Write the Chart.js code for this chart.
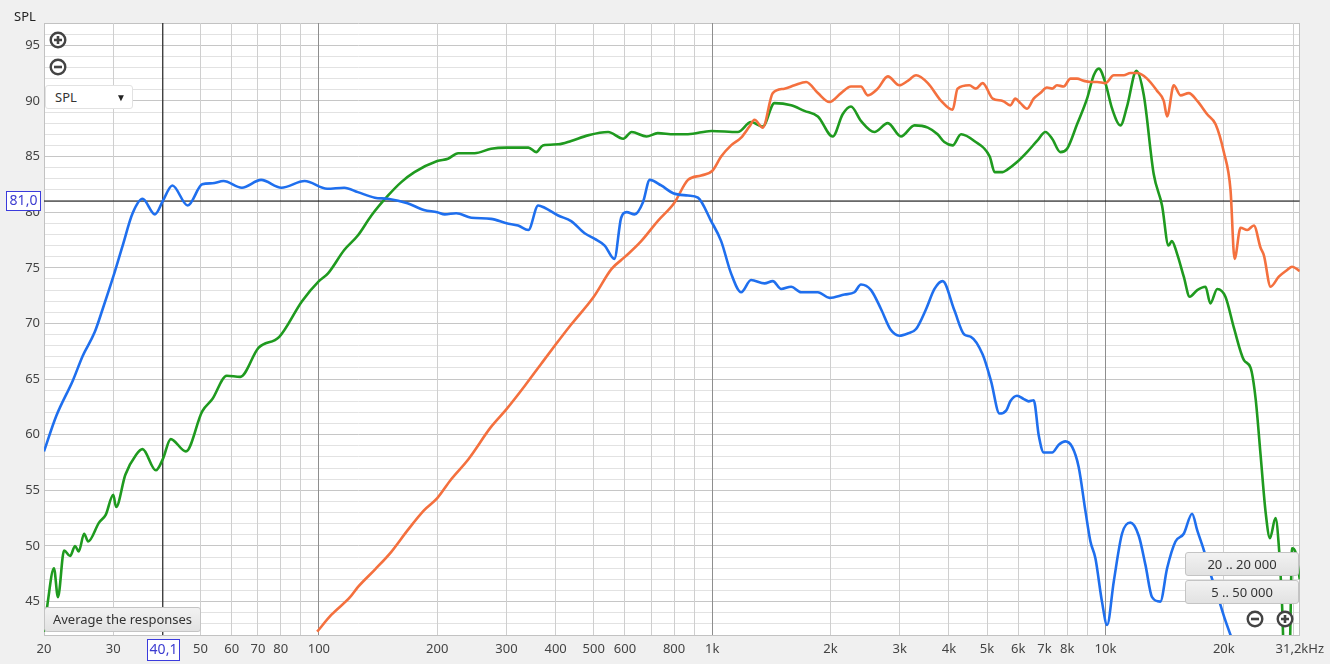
<!DOCTYPE html>
<html><head><meta charset="utf-8">
<script src="https://cdn.jsdelivr.net/npm/chart.js@4.4.1/dist/chart.umd.min.js"></script>
<style>
html,body{margin:0;padding:0;background:#f0f0f0;overflow:hidden;}
#wrap{position:relative;width:1330px;height:664px;background:#f0f0f0;}
canvas{position:absolute;left:0;top:0;}
.ov{position:absolute;font-family:"Noto Sans","Open Sans",sans-serif;font-size:13px;color:#333;box-sizing:border-box;}
.btn{background:linear-gradient(#f2f2f2,#e2e2e2);border:1px solid #c4c4c4;border-radius:3px;text-align:center;line-height:22px;color:#333;}
.icon{position:absolute;width:18px;height:18px;}
</style></head>
<body>
<div id="wrap">
<canvas id="c" width="1330" height="664"></canvas>
<div class="ov" style="left:14px;top:7px;color:#222;">SPL</div>
<svg class="icon" style="left:49px;top:31px" viewBox="0 0 18 18"><circle cx="9" cy="9" r="7.3" fill="#fff" stroke="#444" stroke-width="2.4"/><path d="M5 9h8M9 5v8" stroke="#444" stroke-width="2.6"/></svg>
<svg class="icon" style="left:49px;top:58px" viewBox="0 0 18 18"><circle cx="9" cy="9" r="7.3" fill="#fff" stroke="#444" stroke-width="2.4"/><path d="M5 9h8" stroke="#444" stroke-width="2.6"/></svg>
<div class="ov" style="left:45px;top:85px;width:88px;height:24px;background:#fff;border:1px solid #e2e2e2;border-radius:3px;line-height:22px;padding-left:9px;">SPL<span style="position:absolute;right:6px;top:0;font-size:10px;color:#222;">&#9660;</span></div>
<div class="ov btn" style="left:44px;top:607px;width:157px;height:25px;">Average the responses</div>
<div class="ov btn" style="left:1185px;top:552px;width:114px;height:24px;">20 .. 20 000</div>
<div class="ov btn" style="left:1185px;top:580px;width:114px;height:24px;">5 .. 50 000</div>
<svg class="icon" style="left:1246px;top:610px" viewBox="0 0 18 18"><circle cx="9" cy="9" r="7.3" fill="#fff" stroke="#444" stroke-width="2.4"/><path d="M5 9h8" stroke="#444" stroke-width="2.6"/></svg>
<svg class="icon" style="left:1276px;top:610px" viewBox="0 0 18 18"><circle cx="9" cy="9" r="7.3" fill="#fff" stroke="#444" stroke-width="2.4"/><path d="M5 9h8M9 5v8" stroke="#444" stroke-width="2.6"/></svg>
</div>
<script>
// ---- data ----
const blueFreq = [20,21.5,23.7,25.1,26.9,28.2,30,31.7,33.6,35.6,38.3,40.1,42.4,46.4,50.5,53.6,57.2,63.7,71.3,80.3,92,105,116,125.6,138.7,149.8,168,185,200,209,223.5,244,274,300,321,341,361,375,406,438,474,503,533,564,587,606,635,667,694,742,796,868,920,994,1054,1117,1185,1256,1359,1426,1498,1588,1683,1857,1987,2171,2300,2390,2535,2687,2848,2993,3143,3300,3500,3676,3856,4127,4376,4550,4874,5120,5380,5600,5730,5960,6200,6380,6570,6770,6970,7320,7610,7910,8230,8550,8890,9160,9430,9800,10100,10500,11020,11580,12160,12640,13140,13790,14350,15070,15820,16610,17120,17800,18500,19300,20100,20800,22000];
const blueSPL  = [58.5,61.7,64.9,67.1,69.2,71.3,74.2,77.0,79.9,81.2,79.8,81.0,82.4,80.6,82.5,82.6,82.8,82.2,82.9,82.2,82.8,82.1,82.2,81.8,81.3,81.2,80.8,80.2,80.0,79.8,79.9,79.5,79.4,79.0,78.8,78.4,80.6,80.4,79.7,79.2,78.1,77.6,77.0,75.8,79.5,80.0,79.8,80.9,82.9,82.4,81.7,81.5,81.3,79.2,77.4,74.5,72.8,73.9,73.6,73.8,73.1,73.3,72.8,72.8,72.3,72.6,72.8,73.5,73.0,71.3,69.4,68.9,69.1,69.5,71.3,73.1,73.8,71.2,69.0,68.8,67.2,64.8,61.9,62.2,63.0,63.5,63.2,63.0,63.1,59.9,58.4,58.4,59.1,59.4,58.9,57.1,53.2,50.4,48.9,45.0,42.9,46.8,51.1,52.1,50.9,48.3,45.4,45.0,48.0,50.4,51.1,52.9,51.4,49.6,47.5,45.5,43.5,42.0,39.5];

const greenFreq = [20,20.4,21.2,21.7,22.5,23.3,24.0,24.5,25.3,25.9,27.6,28.7,30,30.5,32.2,34.3,35.6,38.5,40.1,42,45.9,50.5,53.6,58.3,63.1,70.2,79.3,90.6,100,105.5,116,125.6,136,150,162,175,200,213,226,249,274,300,341,357,371,406,438,483,544,594,624,681,727,800,868,995,1162,1256,1345,1440,1588,1716,1857,2026,2147,2254,2390,2585,2797,3021,3270,3535,3743,3894,4087,4294,4640,5079,5229,5480,5620,5960,6320,6700,7040,7320,7680,7990,8470,8980,9340,9620,10000,10400,10920,11350,11990,12520,13270,13930,14470,14750,15200,15820,16380,17120,17970,18480,19250,20190,21220,22500,23400,24100,24800,25570,26200,27070,27600,28130,28600,29400,29830,30400,31200];
const greenSPL  = [42.3,44.7,48.0,45.4,49.6,49.1,50.0,49.5,51.1,50.4,52.1,52.8,54.6,53.5,56.4,58.2,58.7,56.8,57.8,59.6,58.5,62.1,63.2,65.3,65.2,67.8,68.8,72.0,73.8,74.5,76.6,77.9,79.7,81.5,82.7,83.6,84.6,84.8,85.3,85.3,85.7,85.8,85.8,85.4,86.0,86.1,86.4,86.9,87.2,86.6,87.2,86.8,87.1,87.0,87.0,87.3,87.2,88.1,87.7,89.8,89.6,89.1,88.6,86.8,88.8,89.5,88.2,87.2,88.0,86.8,87.8,87.6,87.0,86.3,86.0,87.0,86.4,85.0,83.6,83.6,83.8,84.5,85.4,86.4,87.2,86.6,85.4,85.7,87.9,90.2,92.3,92.9,91.6,89.3,87.8,89.5,92.7,90.5,83.4,80.6,77.0,77.4,76.3,74.2,72.4,73.0,73.3,71.8,73.1,72.4,69.6,66.7,66.0,63.2,58.2,52.9,50.7,52.5,50.0,44.7,38.0,40.0,49.8,49.5,47.0];

const orangeFreq = [99,107.5,120,125.6,139,153,168,185,200,217,240,274,300,334,368,400,438,500,555,601,660,727,800,868,938,1000,1054,1117,1185,1244,1281,1345,1426,1527,1619,1734,1857,1987,2127,2254,2390,2487,2636,2797,2993,3143,3300,3535,3822,4087,4207,4506,4685,4874,5170,5480,5730,5900,6080,6320,6570,6830,7100,7320,7530,7830,8150,8470,8810,9160,9530,10000,10500,11130,11580,12040,12760,13530,14070,14350,14920,15520,16290,17120,18140,19060,20000,20800,21300,22060,22940,23850,24800,25300,26300,27600,28970,29830,31200];
const orangeSPL  = [42.3,43.8,45.4,46.3,47.9,49.5,51.4,53.2,54.3,56.0,57.8,60.7,62.3,64.4,66.4,68.1,69.9,72.4,74.9,76.0,77.4,79.2,80.8,82.9,83.3,83.7,85.0,86.0,86.7,87.7,88.3,87.6,90.7,91.1,91.4,91.7,90.7,89.9,90.7,91.3,91.3,90.5,91.1,92.2,91.4,91.8,92.3,91.6,90.0,89.2,91.1,91.4,91.1,91.6,90.2,90.0,89.6,90.2,89.8,89.3,90.2,90.7,91.2,91.1,91.4,91.3,92.0,92.0,91.8,91.7,91.7,91.6,92.3,92.3,92.5,92.5,92.0,90.9,90.0,88.6,91.4,90.5,90.7,90.0,88.8,87.9,85.4,82.0,75.8,78.6,78.4,78.8,76.8,76.1,73.3,74.2,74.8,75.1,74.7];

const cursorFreq = 40.1;
const cursorSPL = 81.0;

const xTickValues = [20,30,40,50,60,70,80,90,100,200,300,400,500,600,700,800,900,1000,2000,3000,4000,5000,6000,7000,8000,9000,10000,20000,30000,31200];
const xTickLabels = ['20','30','','50','60','70','80','','100','200','300','400','500','600','','800','','1k','2k','3k','4k','5k','6k','7k','8k','','10k','20k','','31,2kHz'];
const yTickValues = [];
for (let v = 42; v <= 97; v++) yTickValues.push(v);
const yTickLabels = yTickValues.map(v => (v % 5 === 0 ? String(v) : ''));

const X_MIN = 20, X_MAX = 31200, Y_MIN = 42, Y_MAX = 97;

// ---- chart ----
const pts = (fs, vs) => fs.map((f, i) => ({x: f, y: vs[i]}));
const FONT = '"Noto Sans","Open Sans",sans-serif';

const bgPlugin = {
  id: 'bg',
  beforeDraw(chart) {
    const a = chart.chartArea, c = chart.ctx;
    c.save(); c.fillStyle = '#ffffff';
    c.fillRect(a.left, a.top, a.right - a.left, a.bottom - a.top);
    c.restore();
  }
};
const cursorPlugin = {
  id: 'cursorLabels',
  afterDraw(chart) {
    const c = chart.ctx, xs = chart.scales.x, ys = chart.scales.y;
    const px = Math.round(xs.getPixelForValue(cursorFreq)) + 0.5;
    const py = Math.round(ys.getPixelForValue(cursorSPL)) + 0.5;
    c.save();
    c.font = '14px ' + FONT;
    c.textAlign = 'center'; c.textBaseline = 'middle';
    let w = 32, h = 21;
    c.fillStyle = '#fff'; c.fillRect(px - w/2, 639.5, w, h);
    c.strokeStyle = '#3b3bdc'; c.lineWidth = 1; c.strokeRect(px - w/2, 639.5, w, h);
    c.fillStyle = '#3b3bd0'; c.fillText('40,1', px, 650.5);
    w = 34; h = 19;
    c.fillStyle = '#fff'; c.fillRect(6.5, py - 10, w, h);
    c.strokeRect(6.5, py - 10, w, h);
    c.fillStyle = '#3b3bd0'; c.fillText('81,0', 6.5 + w/2, py);
    c.restore();
  }
};

const line = (data, color) => ({
  data, borderColor: color, borderWidth: 2.6, pointRadius: 0,
  cubicInterpolationMode: 'monotone', fill: false
});

new Chart(document.getElementById('c'), {
  type: 'line',
  data: {
    datasets: [
      line(pts(blueFreq, blueSPL), '#1f6fee'),
      line(pts(orangeFreq, orangeSPL), '#f4703e'),
      line(pts(greenFreq, greenSPL), '#1f9a1f'),
      {data: [{x: cursorFreq, y: Y_MIN}, {x: cursorFreq, y: Y_MAX}], borderColor: '#000', borderWidth: 1, pointRadius: 0, tension: 0},
      {data: [{x: X_MIN, y: cursorSPL}, {x: X_MAX, y: cursorSPL}], borderColor: '#000', borderWidth: 1, pointRadius: 0, tension: 0}
    ]
  },
  options: {
    responsive: false, animation: false, devicePixelRatio: 1,
    layout: {padding: {top: 23, right: 29, left: 0, bottom: 0}},
    plugins: {legend: {display: false}, tooltip: {enabled: false}},
    scales: {
      x: {
        type: 'logarithmic', min: X_MIN, max: X_MAX,
        afterBuildTicks(s) { s.ticks = xTickValues.map(v => ({value: v})); },
        afterFit(s) { s.height = 29; },
        border: {display: true, color: '#c2c2c2'},
        grid: {
          drawTicks: false, z: -1,
          color: (ctx) => {
            const v = ctx.tick && ctx.tick.value;
            if (v === 100 || v === 1000 || v === 10000) return '#8e8e8e';
            if (v === X_MAX || v === X_MIN) return '#c2c2c2';
            return '#cfcfcf';
          }
        },
        ticks: {
          autoSkip: false, maxRotation: 0, padding: 6, color: '#444',
          font: {family: FONT, size: 13},
          callback: (v, i) => xTickLabels[i]
        }
      },
      y: {
        type: 'linear', min: Y_MIN, max: Y_MAX,
        afterBuildTicks(s) { s.ticks = yTickValues.map(v => ({value: v})); },
        afterFit(s) { s.width = 44; },
        border: {display: true, color: '#c2c2c2'},
        grid: {
          drawTicks: false, z: -3,
          color: (ctx) => {
            const v = ctx.tick && ctx.tick.value;
            if (v === Y_MAX) return '#c2c2c2';
            return v % 5 === 0 ? '#c6c6c6' : '#e2e2e2';
          }
        },
        ticks: {
          autoSkip: false, padding: 4, color: '#444',
          font: {family: FONT, size: 13},
          callback: (v, i) => yTickLabels[i]
        }
      }
    }
  },
  plugins: [bgPlugin, cursorPlugin]
});
</script>
</body></html>
